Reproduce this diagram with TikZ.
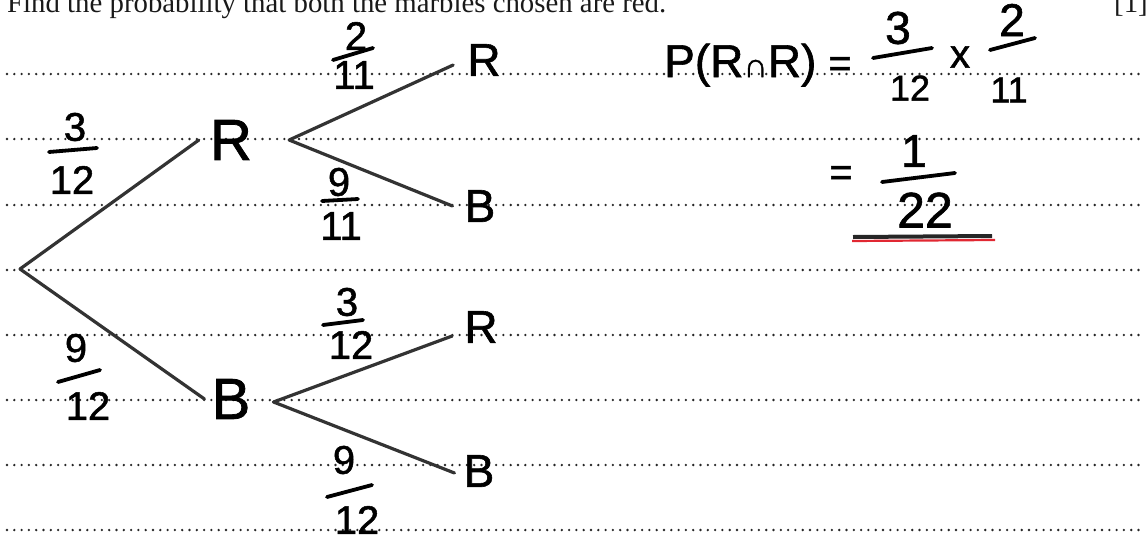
\documentclass[tikz,border=0pt]{standalone}
\usepackage{fontspec}
\setmainfont{Liberation Serif}
\newfontfamily\hwfont{Liberation Sans}[BoldFont={Liberation Sans}, BoldFeatures={FakeBold=1.3}]
\begin{document}
\begin{tikzpicture}[x=1pt,y=-1pt,
  dotrule/.style={line width=2.6pt, dash pattern=on 0pt off 7.3pt, line cap=round, color=black!85},
  hw/.style={inner sep=0pt, text=black},
  bigl/.style={hw, font={\hwfont\bfseries\fontsize{58}{60}\selectfont}},
  leaf/.style={hw, font={\hwfont\bfseries\fontsize{46}{48}\selectfont}},
  dig/.style={hw, font={\hwfont\bfseries\fontsize{40}{42}\selectfont}},
  fdig/.style={hw, font={\hwfont\bfseries\fontsize{46}{48}\selectfont}},
  sdig/.style={hw, font={\hwfont\bfseries\fontsize{36}{38}\selectfont}},
  branch/.style={line width=3.2pt, color=black!80, line cap=round},
  fbar/.style={line width=3.8pt, line cap=round, color=black},
  header/.style={inner sep=0pt, text=black!90, font={\fontsize{28.8}{30}\selectfont}}
]
\useasboundingbox (0,0) rectangle (1146,541);
\clip (0,0) rectangle (1146,541);

% ruled dotted lines
\foreach \yy in {74,139,205,270,335,400,465,530}
  \draw[dotrule] (7,\yy) -- (1140,\yy);

% header
\node[header, anchor=base west] (q) at (7,12) {Find the probability that both the marbles chosen are red.};
\node[header, anchor=base west] (mk) at (1114,12) {[1]};

% tree nodes
\coordinate (root) at (20,269);
\node[bigl] (R1) at (231,140) {R};
\node[bigl] (B1) at (231,399) {B};
\node[leaf] (RR) at (484,60) {R};
\node[leaf] (RB) at (480,206) {B};
\node[leaf] (BR) at (481,327) {R};
\node[leaf] (BB) at (479,471) {B};

% branches
\draw[branch] (root) -- ([xshift=-11pt]R1.west);
\draw[branch] (root) -- ([xshift=-7pt]B1.west);
\draw[branch] ([xshift=37pt]R1.east) -- ([xshift=-14pt,yshift=-5pt]RR.west);
\draw[branch] ([xshift=37pt]R1.east) -- ([xshift=-12pt]RB.west);
\draw[branch] ([xshift=23pt,yshift=-3pt]B1.east) -- ([xshift=-12pt,yshift=-9pt]BR.west);
\draw[branch] ([xshift=23pt,yshift=-3pt]B1.east) -- ([xshift=-9pt,yshift=-2pt]BB.west);

% branch probabilities
\node[dig] (f1n) at (75,127) {3};
\draw[fbar] (49,152) -- (97,148);
\node[dig] (f1d) at (72,180) {12};

\node[dig] (f2n) at (76,348) {9};
\draw[fbar] (58,382) -- (100,370);
\node[dig] (f2d) at (88,406) {12};

\node[dig] (f3n) at (356,36) {2};
\draw[fbar] (333,60) -- (373,48);
\node[dig] (f3d) at (354,75) {11};

\node[dig] (f4n) at (339,182) {9};
\draw[fbar] (322,201) -- (358,199);
\node[dig] (f4d) at (341,226) {11};

\node[dig] (f5n) at (347,302) {3};
\draw[fbar] (323,325) -- (363,320);
\node[dig] (f5d) at (351,345) {12};

\node[dig] (f6n) at (344,460) {9};
\draw[fbar] (327,497) -- (372,485);
\node[dig] (f6d) at (357,520) {12};

% working
\node[fdig, anchor=base west] (pr) at (664,77) {P(R{\fontsize{34}{34}\selectfont ∩}R)};
\node[dig] (eq1) at (840,67) {=};
\node[fdig] (w1n) at (898,28) {3};
\draw[fbar] (873,58) -- (932,48);
\node[sdig] (w1d) at (910,88) {12};
\node[dig] (times) at (960,57) {x};
\node[fdig] (w2n) at (1012,20) {2};
\draw[fbar] (990,50) -- (1035,38);
\node[sdig] (w2d) at (1009,90) {11};

\node[dig] (eq2) at (841,176) {=};
\node[fdig] (r1n) at (914,151) {1};
\draw[fbar] (882,182) -- (955,173);
\node[hw, font={\hwfont\bfseries\fontsize{50}{52}\selectfont}] (r1d) at (925,210) {22};
\draw[line width=4pt, color=black!85] (853,237) -- (992,236);
\draw[line width=2.2pt, color={rgb,255:red,225;green,40;blue,50}] (852,241) -- (995,240);
\end{tikzpicture}
\end{document}
